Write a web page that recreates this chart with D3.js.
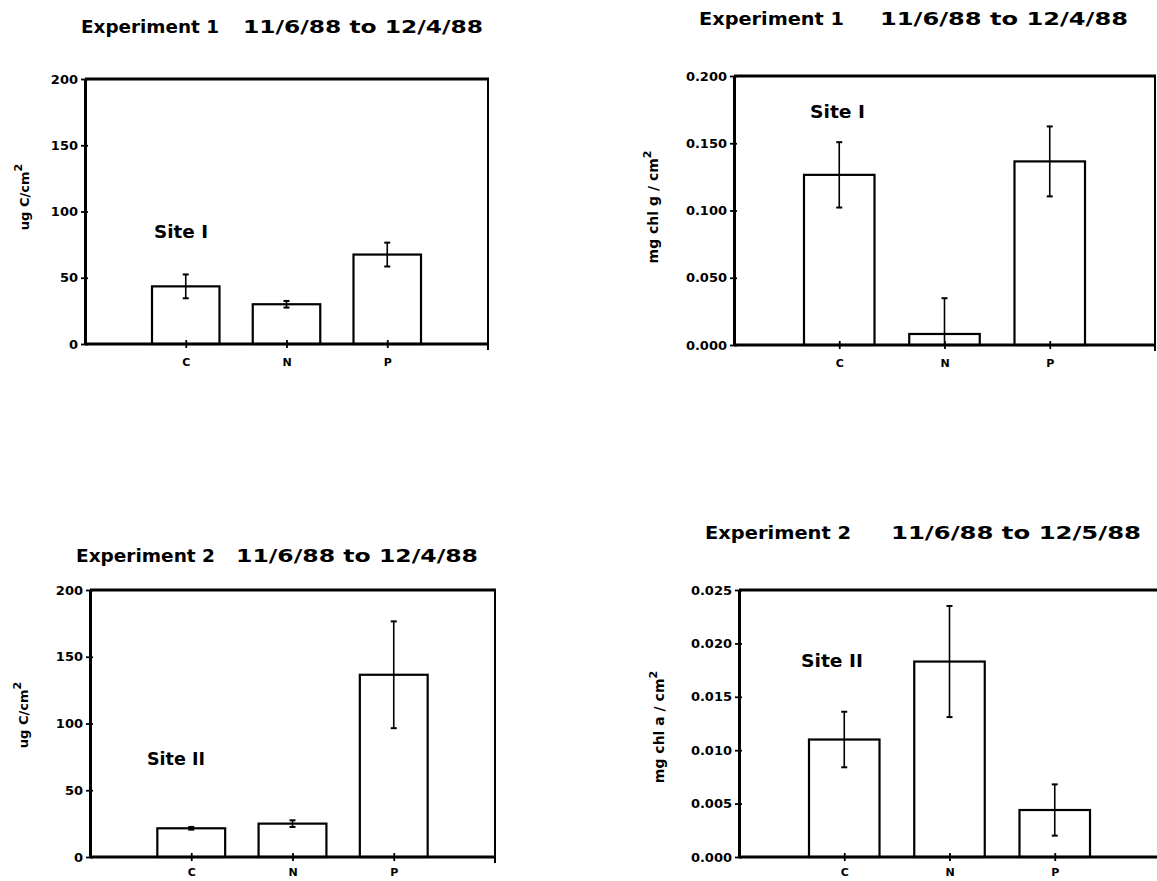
<!DOCTYPE html>
<html><head><meta charset="utf-8">
<script src="https://cdn.jsdelivr.net/npm/d3@7"></script>
<style>
html,body{margin:0;padding:0;background:#fff;}
svg{display:block;}
text{font-family:"DejaVu Sans",Verdana,sans-serif;fill:#000;}
</style></head>
<body>
<svg id="chart" width="1157" height="881"></svg>
<script>
// ---- data ----
const categories = ["C", "N", "P"];

const exp1CarbonMeans = [43.5, 30, 67.5];
const exp1CarbonErr   = [9, 2.5, 9];

const exp1ChlMeans = [0.1265, 0.0082, 0.1365];
const exp1ChlErr   = [0.0243, 0.0266, 0.026];

const exp2CarbonMeans = [21.5, 25, 136.5];
const exp2CarbonErr   = [1, 2.5, 40];

const exp2ChlMeans = [0.011, 0.0183, 0.0044];
const exp2ChlErr   = [0.0026, 0.0052, 0.0024];

const carbonTicks = [0, 50, 100, 150, 200];
const chl1Ticks   = [0, 0.05, 0.10, 0.15, 0.20];
const chl2Ticks   = [0, 0.005, 0.010, 0.015, 0.020, 0.025];

const titleExp1 = "Experiment 1";
const titleExp2 = "Experiment 2";
const dates1 = "11/6/88 to 12/4/88";
const dates2 = "11/6/88 to 12/5/88";
const site1 = "Site I";
const site2 = "Site II";

// ---- drawing ----
const svg = d3.select("#chart");

function panel(cfg) {
  const g = svg.append("g");
  const x = d3.scalePoint().domain(categories).range([cfg.left, cfg.right]).padding(1);
  const y = d3.scaleLinear().domain([0, cfg.max]).range([cfg.bottom, cfg.top]);
  const bw = x.step() * 0.67;
  const rows = categories.map((c, i) => ({cat: c, mean: cfg.means[i], err: cfg.err[i]}));

  // bars
  g.selectAll("rect.bar").data(rows).join("rect")
    .attr("x", d => x(d.cat) - bw / 2)
    .attr("y", d => y(d.mean))
    .attr("width", bw)
    .attr("height", d => y(0) - y(d.mean))
    .attr("fill", "#fff").attr("stroke", "#000").attr("stroke-width", 2.2);

  // error bars
  g.selectAll("line.stem").data(rows).join("line")
    .attr("x1", d => x(d.cat)).attr("x2", d => x(d.cat))
    .attr("y1", d => y(d.mean + d.err))
    .attr("y2", d => y(Math.max(0, d.mean - d.err)))
    .attr("stroke", "#000").attr("stroke-width", 1.6);
  g.selectAll("line.capTop").data(rows).join("line")
    .attr("x1", d => x(d.cat) - 3).attr("x2", d => x(d.cat) + 3)
    .attr("y1", d => y(d.mean + d.err)).attr("y2", d => y(d.mean + d.err))
    .attr("stroke", "#000").attr("stroke-width", 2);
  g.selectAll("line.capBot").data(rows.filter(d => d.mean - d.err > 0)).join("line")
    .attr("x1", d => x(d.cat) - 3).attr("x2", d => x(d.cat) + 3)
    .attr("y1", d => y(d.mean - d.err)).attr("y2", d => y(d.mean - d.err))
    .attr("stroke", "#000").attr("stroke-width", 2);

  // frame: top and right
  g.append("line").attr("x1", cfg.left).attr("x2", cfg.right + 1)
    .attr("y1", cfg.top).attr("y2", cfg.top)
    .attr("stroke", "#000").attr("stroke-width", 3);
  g.append("line").attr("x1", cfg.right).attr("x2", cfg.right)
    .attr("y1", cfg.top).attr("y2", cfg.bottom + 6)
    .attr("stroke", "#000").attr("stroke-width", 2);

  // y axis
  const ya = g.append("g").attr("transform", `translate(${cfg.left},0)`)
    .call(d3.axisLeft(y).tickValues(cfg.ticks).tickFormat(cfg.fmt)
      .tickSize(4).tickSizeOuter(0).tickPadding(3));
  ya.select(".domain").attr("stroke-width", 3);
  ya.selectAll(".tick line").attr("x1", 3).attr("stroke-width", 1.8);
  ya.selectAll(".tick text").style("font-size", "13px").style("font-weight", "bold")
    .attr("font-family", null);

  // x axis
  const xa = g.append("g").attr("transform", `translate(0,${cfg.bottom})`)
    .call(d3.axisBottom(x).tickSize(4).tickSizeOuter(0).tickPadding(cfg.xpad));
  xa.select(".domain").attr("d", `M${cfg.left},0H${cfg.right}`).attr("stroke-width", 3);
  xa.selectAll(".tick line").attr("y1", -4).attr("stroke-width", 1.8);
  xa.selectAll(".tick text").style("font-size", "11px").style("font-weight", "bold")
    .attr("font-family", null);

  // titles
  g.append("text").attr("x", cfg.t1x).attr("y", cfg.ty)
    .attr("textLength", cfg.t1w).attr("lengthAdjust", "spacingAndGlyphs")
    .style("font-size", "18px").style("font-weight", "bold").text(cfg.title);
  g.append("text").attr("x", cfg.t2x).attr("y", cfg.ty)
    .attr("textLength", cfg.t2w).attr("lengthAdjust", "spacingAndGlyphs")
    .style("font-size", "18px").style("font-weight", "bold").text(cfg.dates);

  // site label
  g.append("text").attr("x", cfg.sx).attr("y", cfg.sy)
    .attr("textLength", cfg.sw).attr("lengthAdjust", "spacingAndGlyphs")
    .style("font-size", "18px").style("font-weight", "bold").text(cfg.site);

  // y label
  const yl = g.append("text")
    .attr("transform", `translate(${cfg.lx},${cfg.ly}) rotate(-90)`)
    .attr("text-anchor", "middle")
    .style("font-size", cfg.lfs).style("font-weight", "bold");
  cfg.ylabel(yl);
}

function carbonLabel(t) {
  t.append("tspan").text("ug C/cm");
  t.append("tspan").attr("dy", "-0.6em").style("font-size", "11px").text("2");
}
function chlLabel(letter) {
  return function(t) {
    t.append("tspan").text("mg chl ");
    t.append("tspan").text(letter);
    t.append("tspan").text(" / cm");
    t.append("tspan").attr("dy", "-0.6em").style("font-size", "11px").text("2");
  };
}

panel({left: 85, right: 488, top: 79, bottom: 344, max: 200,
  means: exp1CarbonMeans, err: exp1CarbonErr, ticks: carbonTicks, fmt: d3.format("d"),
  xpad: 10, title: titleExp1, dates: dates1, ty: 33, t1x: 81, t1w: 138, t2x: 243, t2w: 240,
  site: site1, sx: 154, sy: 238, sw: 54, lx: 29, ly: 197, lfs: "13px", ylabel: carbonLabel});

panel({left: 734, right: 1155, top: 76, bottom: 345, max: 0.2,
  means: exp1ChlMeans, err: exp1ChlErr, ticks: chl1Ticks, fmt: d3.format(".3f"),
  xpad: 10, title: titleExp1, dates: dates1, ty: 25, t1x: 699, t1w: 145, t2x: 880, t2w: 248,
  site: site1, sx: 810, sy: 118, sw: 55, lx: 658, ly: 207, lfs: "14px", ylabel: chlLabel("g")});

panel({left: 90, right: 495, top: 590, bottom: 857, max: 200,
  means: exp2CarbonMeans, err: exp2CarbonErr, ticks: carbonTicks, fmt: d3.format("d"),
  xpad: 7, title: titleExp2, dates: dates1, ty: 562, t1x: 76, t1w: 139, t2x: 236, t2w: 242,
  site: site2, sx: 147, sy: 765, sw: 58, lx: 28, ly: 715, lfs: "13px", ylabel: carbonLabel});

panel({left: 739, right: 1160, top: 590, bottom: 857, max: 0.025,
  means: exp2ChlMeans, err: exp2ChlErr, ticks: chl2Ticks, fmt: d3.format(".3f"),
  xpad: 7, title: titleExp2, dates: dates2, ty: 539, t1x: 705, t1w: 146, t2x: 891, t2w: 250,
  site: site2, sx: 801, sy: 667, sw: 62, lx: 664, ly: 727, lfs: "14px", ylabel: chlLabel("a")});
</script>
</body></html>
